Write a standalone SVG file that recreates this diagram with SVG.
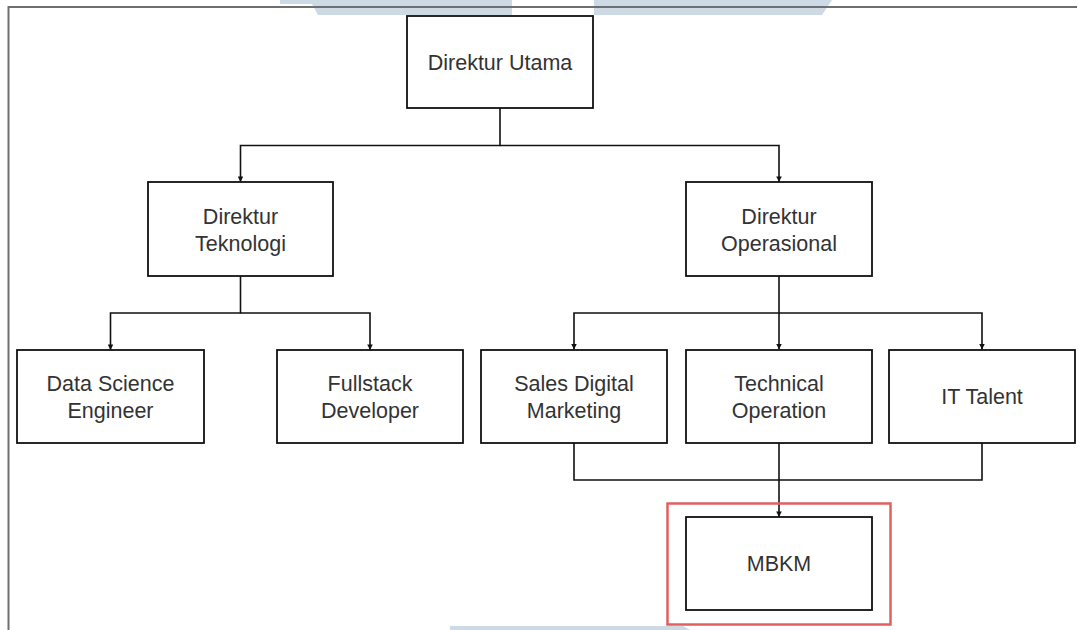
<svg xmlns="http://www.w3.org/2000/svg" width="1078" height="630" viewBox="0 0 1078 630">
  <style>
    .box { fill: #ffffff; stroke: #111111; stroke-width: 1.8; }
    .lbl { font-family: "Liberation Sans", Arial, sans-serif; font-size: 21.5px; fill: #333333; text-anchor: middle; }
    .edge { fill: none; stroke: #111111; stroke-width: 1.6; }
    .wm { fill: #cdd9e4; }
  </style>
  <defs>
    <marker id="arr" viewBox="0 0 6 6" refX="6" refY="3" markerWidth="3.5" markerHeight="3.5" orient="auto" markerUnits="strokeWidth">
      <path d="M0,0 L6,3 L0,6 Z" fill="#111111"/>
    </marker>
  </defs>
  <rect x="0" y="0" width="1078" height="630" fill="#ffffff"/>
  <g id="watermark">
    <polygon class="wm" points="280,0 512,0 512,15 318,15 312,4 280,4"/>
    <polygon class="wm" points="594,0 832,0 822,15 594,15"/>
    <polygon class="wm" points="450,626 683,626 690,630 450,630"/>
  </g>
  <g id="frame">
    <line x1="8.5" y1="7" x2="1077" y2="7" stroke="#6f6f6f" stroke-width="2"/>
    <line x1="8.5" y1="6" x2="8.5" y2="630" stroke="#6f6f6f" stroke-width="2"/>
  </g>
  <g id="connectors">
    <path class="edge" d="M500,108 V145.5 H240.5 V182" marker-end="url(#arr)"/>
    <path class="edge" d="M500,145.5 H779 V182" marker-end="url(#arr)"/>
    <path class="edge" d="M240.5,276 V313 H110.5 V350" marker-end="url(#arr)"/>
    <path class="edge" d="M240.5,313 H370 V350" marker-end="url(#arr)"/>
    <path class="edge" d="M779,276 V313 H574 V349.5" marker-end="url(#arr)"/>
    <path class="edge" d="M779,313 V349.5" marker-end="url(#arr)"/>
    <path class="edge" d="M779,313 H982 V349.5" marker-end="url(#arr)"/>
    <path class="edge" d="M574,443 V480 H982 V443"/>
    <path class="edge" d="M779,443 V517" marker-end="url(#arr)"/>
  </g>
  <g id="direktur-utama">
    <rect class="box" x="407" y="16" width="186" height="92"/>
    <text class="lbl" x="500" y="69.7">Direktur Utama</text>
  </g>
  <g id="direktur-teknologi">
    <rect class="box" x="148" y="182" width="185" height="94"/>
    <text class="lbl" x="240.5" y="223.7">Direktur</text>
    <text class="lbl" x="240.5" y="250.7">Teknologi</text>
  </g>
  <g id="direktur-operasional">
    <rect class="box" x="686" y="182" width="186" height="94"/>
    <text class="lbl" x="779" y="223.7">Direktur</text>
    <text class="lbl" x="779" y="250.7">Operasional</text>
  </g>
  <g id="data-science-engineer">
    <rect class="box" x="17" y="350" width="187" height="93"/>
    <text class="lbl" x="110.5" y="390.7">Data Science</text>
    <text class="lbl" x="110.5" y="417.7">Engineer</text>
  </g>
  <g id="fullstack-developer">
    <rect class="box" x="277" y="350" width="186" height="93"/>
    <text class="lbl" x="370" y="390.7">Fullstack</text>
    <text class="lbl" x="370" y="417.7">Developer</text>
  </g>
  <g id="sales-digital-marketing">
    <rect class="box" x="481" y="350" width="186" height="93"/>
    <text class="lbl" x="574" y="390.7">Sales Digital</text>
    <text class="lbl" x="574" y="417.7">Marketing</text>
  </g>
  <g id="technical-operation">
    <rect class="box" x="686" y="350" width="186" height="93"/>
    <text class="lbl" x="779" y="390.7">Technical</text>
    <text class="lbl" x="779" y="417.7">Operation</text>
  </g>
  <g id="it-talent">
    <rect class="box" x="889" y="350" width="186" height="93"/>
    <text class="lbl" x="982" y="404.2">IT Talent</text>
  </g>
  <g id="mbkm-highlight">
    <rect x="667.5" y="503.5" width="223" height="121" fill="none" stroke="#e06060" stroke-width="2.5"/>
  </g>
  <g id="mbkm">
    <rect class="box" x="686" y="517" width="186" height="93"/>
    <text class="lbl" x="779" y="571.2">MBKM</text>
  </g>
</svg>
